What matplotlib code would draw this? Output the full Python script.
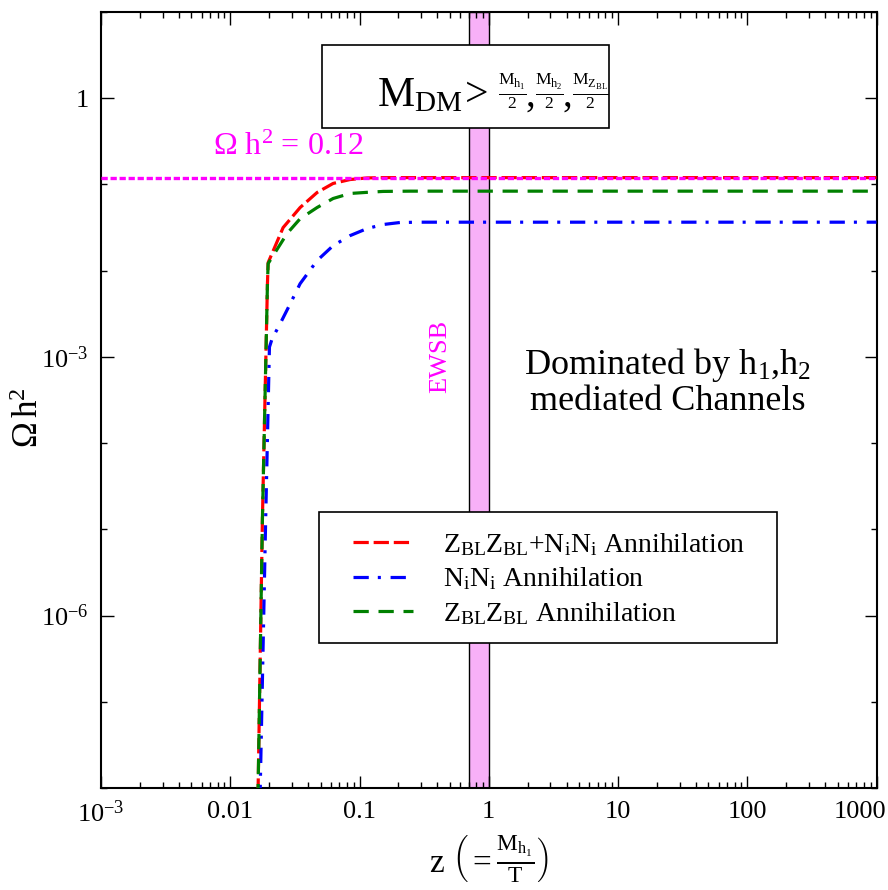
import matplotlib
matplotlib.use("Agg")
import matplotlib.pyplot as plt
from matplotlib.ticker import FixedLocator, NullFormatter, FixedFormatter
from matplotlib.patches import Rectangle
from matplotlib.transforms import ScaledTranslation

plt.rcParams['font.family'] = ['Liberation Serif', 'DejaVu Serif']
plt.rcParams['mathtext.fontset'] = 'custom'
plt.rcParams['mathtext.rm'] = 'Liberation Serif'
plt.rcParams['mathtext.it'] = 'Liberation Serif:italic'
plt.rcParams['mathtext.bf'] = 'Liberation Serif:bold'
plt.rcParams['lines.scale_dashes'] = False

# ---------------- data ----------------
z_total = [0.0160, 0.01643, 0.01774, 0.0194, 0.01964, 0.02565, 0.03473, 0.0470,
           0.0625, 0.0846, 0.1145, 0.1524, 1000]
omega_total = [1e-9, 1e-8, 1.34e-5, 7.06e-3, 1.24e-2, 3.16e-2, 5.4e-2, 8.07e-2,
               0.1027, 0.114, 0.119, 0.12, 0.12]

z_NN = [0.0168, 0.01706, 0.0188, 0.0201, 0.0211, 0.0243, 0.0291, 0.0347, 0.0470,
        0.0625, 0.0846, 0.1145, 0.1524, 0.2060, 0.30, 1000]
omega_NN = [1e-9, 1e-8, 1.34e-5, 1.3e-3, 1.63e-3, 2.42e-3, 4.13e-3, 7.06e-3, 1.31e-2,
            1.95e-2, 2.55e-2, 3.08e-2, 3.43e-2, 3.62e-2, 3.65e-2, 3.65e-2]

z_ZZ = [0.0160, 0.01643, 0.01774, 0.0194, 0.01964, 0.02754, 0.0347, 0.0470,
        0.0625, 0.0846, 0.1145, 0.1524, 0.25, 1000]
omega_ZZ = [1e-9, 1e-8, 1.34e-5, 7.06e-3, 1.21e-2, 2.7e-2, 4.0e-2, 5.4e-2,
            6.87e-2, 7.86e-2, 8.1e-2, 8.3e-2, 8.36e-2, 8.36e-2]

omega_obs = 0.12
ewsb_band = (0.7, 1.0)

labels = [r'$\mathrm{Z_{BL}Z_{BL}{+}N_iN_i}$ Annihilation',
          r'$\mathrm{N_iN_i}$ Annihilation',
          r'$\mathrm{Z_{BL}Z_{BL}}$ Annihilation']

xticks = [1e-3, 1e-2, 1e-1, 1, 10, 100, 1000]
xticklabels = [r'$\mathrm{10^{-3}}$', '0.01', '0.1', '1', '10', '100', '1000']
yticks = [1e-6, 1e-3, 1]
yticklabels = [r'$\mathrm{10^{-6}}$', r'$\mathrm{10^{-3}}$', '1']
yminor = [1e-8, 1e-7, 1e-5, 1e-4, 1e-2, 1e-1, 10]

# ---------------- figure ----------------
W, H = 888, 890
fig = plt.figure(figsize=(W / 100, H / 100), dpi=100)
ax = fig.add_axes([101 / W, 1 - 788 / H, 775.5 / W, 776 / H])
ax.set_xscale('log')
ax.set_yscale('log')
ax.set_xlim(1e-3, 1e3)
ax.set_ylim(1e-8, 10)

ax.axvspan(*ewsb_band, facecolor='#f8b0f8', edgecolor='black', lw=1.0, zorder=1)

l1, = ax.plot(z_total, omega_total, color='#ff0000', lw=2.3,
              linestyle=(0, (11, 3.5)), zorder=3)
l2, = ax.plot(z_NN, omega_NN, color='#0000ff', lw=2.3,
              linestyle=(0, (11, 6.5, 2.2, 7)), zorder=3)
l3, = ax.plot(z_ZZ, omega_ZZ, color='#008000', lw=2.3,
              linestyle=(0, (11, 7)), zorder=3)
ax.axhline(omega_obs, color='#ff00ff', lw=2.4, linestyle=(0, (4.5, 2.0)), zorder=4)

# ticks
ax.xaxis.set_major_locator(FixedLocator(xticks))
ax.xaxis.set_major_formatter(FixedFormatter(xticklabels))
ax.xaxis.set_minor_locator(FixedLocator([m * 10.0 ** e for e in range(-3, 3) for m in range(2, 10)]))
ax.xaxis.set_minor_formatter(NullFormatter())
ax.yaxis.set_major_locator(FixedLocator(yticks))
ax.yaxis.set_major_formatter(FixedFormatter(yticklabels))
ax.yaxis.set_minor_locator(FixedLocator(yminor))
ax.yaxis.set_minor_formatter(NullFormatter())
ax.tick_params(which='both', direction='in', top=True, right=True, labelsize=19, width=1.0)
ax.tick_params(which='major', length=9, pad=9)
ax.tick_params(which='minor', length=4.5)
for s in ax.spines.values():
    s.set_linewidth(1.5)

# shift last x tick label left so it stays inside the figure
fig.canvas.draw()
lastlab = ax.get_xticklabels()[-1]
lastlab.set_transform(lastlab.get_transform() + ScaledTranslation(-0.17, 0, fig.dpi_scale_trans))

ax.set_xlabel(r'z $\left(=\frac{\mathrm{M_{h_1}}}{\mathrm{T}}\right)$', fontsize=24)
ax.xaxis.set_label_coords(0.5, -(858 - 788) / 776)
ax.xaxis.label.set_va('center')
ax.set_ylabel(r'Ω$\,\mathrm{h^2}$', fontsize=25)
ax.yaxis.set_label_coords(-(101 - 30) / 775.5, (788 - 418) / 776)
ax.yaxis.label.set_va('center')

# annotations
ax.text(0.0074, 0.27, r'Ω $\mathrm{h^2}$ = 0.12', color='#ff00ff', fontsize=23,
        ha='left', va='center')
ax.text(0.42, 1e-3, 'EWSB', color='#ff00ff', fontsize=19, rotation=90,
        ha='center', va='center')
ax.text(668 / W, 1 - 382 / H, 'Dominated by h$_1$,h$_2$\nmediated Channels',
        transform=fig.transFigure,
        fontsize=26, ha='center', va='center', multialignment='center',
        linespacing=1.05)

# box with mass condition
box = Rectangle((322 / W, 1 - 128 / H), (609 - 322) / W, (128 - 45) / H,
                transform=fig.transFigure, facecolor='white', edgecolor='black',
                lw=1.2, zorder=5, clip_on=False)
ax.add_patch(box)
tkw = dict(transform=fig.transFigure, zorder=6, clip_on=False)
ax.text(377 / W, 1 - 106 / H, r'$\mathrm{M_{DM}}$', fontsize=30, ha='left',
        va='baseline', **tkw)
ax.text(477 / W, 1 - 106 / H, '>', fontsize=30, ha='center', va='baseline', **tkw)
fracs = [r'$\frac{\mathrm{M_{h_1}}}{\mathrm{2}}$', r'$\frac{\mathrm{M_{h_2}}}{\mathrm{2}}$',
         r'$\frac{\mathrm{M_{Z_{BL}}}}{\mathrm{2}}$']
fx = [512, 549, 590]
for f, x in zip(fracs, fx):
    ax.text(x / W, 1 - 91 / H, f, fontsize=18, ha='center', va='center', **tkw)
for x in [530, 567]:
    ax.text(x / W, 1 - 106 / H, ',', fontsize=28, ha='center', va='baseline', **tkw)

# legend (frame drawn separately to match the reference box)
legbox = Rectangle((319 / W, 1 - 643 / H), (777 - 319) / W, (643 - 512) / H,
                   transform=fig.transFigure, facecolor='white', edgecolor='black',
                   lw=1.2, zorder=5, clip_on=False)
ax.add_patch(legbox)
leg = ax.legend([l1, l2, l3], labels, loc='center',
                bbox_to_anchor=(549 / W, 1 - 579 / H), bbox_transform=fig.transFigure,
                fontsize=20, frameon=False, handlelength=2.16, handletextpad=1.1,
                borderpad=0, borderaxespad=0, labelspacing=0.27)
leg.set_zorder(7)

fig.savefig('out.png', dpi=100)
